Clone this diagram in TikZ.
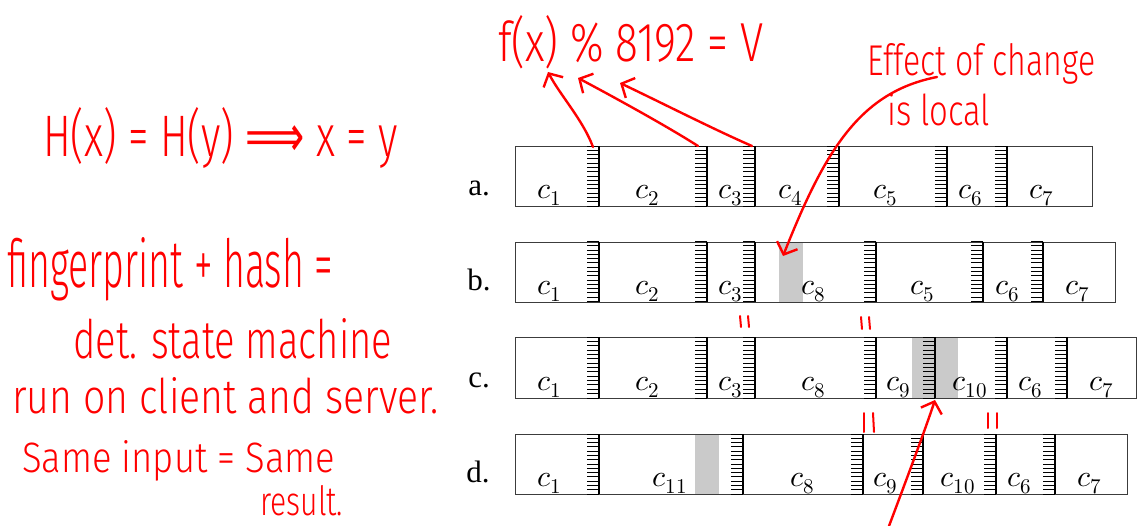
\documentclass[tikz,border=0pt]{standalone}
\usepackage{fontspec}
\usepackage{unicode-math}
\setmathfont{Latin Modern Math}
\usepackage{graphicx}
\usetikzlibrary{arrows.meta,calc}
\IfFontExistsTF{Fira Sans Light}
  {\newfontfamily\hwfont{Fira Sans Light}}
  {\newfontfamily\hwfont{DejaVu Sans}}
\newfontfamily\hwsym{DejaVu Sans}
\newfontfamily\lblfont{Liberation Serif}
\definecolor{ink}{RGB}{255,0,0}
\definecolor{boxgray}{RGB}{60,60,60}
\definecolor{shade}{RGB}{202,202,202}
\newcommand\hw[3]{\resizebox{#1pt}{#2pt}{\hwfont #3}}
\newcommand\divider[3]{%
  \foreach \k in {0,...,14}{\draw[hatchline] ({#1-12},{#2+\k*(#3-#2)/14}) -- ({#1},{#2+\k*(#3-#2)/14});}
  \draw[divline] (#1,#2) -- (#1,#3);
}
\tikzset{
  rowbox/.style={draw=boxgray, line width=1.2pt, inner sep=0pt, anchor=north west},
  hatchline/.style={draw=black, line width=0.9pt},
  divline/.style={draw=black, line width=1.6pt},
  shadebox/.style={fill=shade, draw=none},
  chunklabel/.style={anchor=base, inner sep=0pt, font=\fontsize{30}{34}\selectfont},
  rowlabel/.style={anchor=base, inner sep=0pt, font=\lblfont\fontsize{31}{36}\selectfont},
  hand/.style={anchor=base west, inner sep=0pt, text=ink},
  redarrow/.style={draw=ink, line width=2.4pt, line cap=round, -{Straight Barb[length=10pt,width=22pt]}},
  tick/.style={draw=ink, line width=2pt, line cap=round},
}
\begin{document}
\begin{tikzpicture}[x=1pt,y=-1pt]
\useasboundingbox (0,0) rectangle (1137,525);

% ---------- shaded (changed) regions ----------
\fill[shadebox] (779,241.5) rectangle (803,301.5);
\fill[shadebox] (912,337) rectangle (958,398);
\fill[shadebox] (695,434) rectangle (719,494);

% ---------- rows ----------
\node[rowbox, minimum width=577pt, minimum height=60pt] (rowa) at (515,146) {};
\node[rowbox, minimum width=600pt, minimum height=60pt] (rowb) at (515,241.5) {};
\node[rowbox, minimum width=621pt, minimum height=61pt] (rowc) at (515,337) {};
\node[rowbox, minimum width=612pt, minimum height=60pt] (rowd) at (515,434) {};

% ---------- chunk boundaries (hatched) ----------
\foreach \x in {599,707,755,839,947,1007} {\divider{\x}{146}{206}}
\foreach \x in {599,707,755,876,983,1043} {\divider{\x}{241.5}{301.5}}
\foreach \x in {599,707,755,876,935,1007,1067} {\divider{\x}{337}{398}}
\foreach \x in {599,743,863,923,996,1055} {\divider{\x}{434}{494}}

% ---------- chunk labels ----------
\foreach \x/\n [count=\i] in {549/1,647/2,730/3,790/4,885/5,970/6,1042/7}
  {\node[chunklabel] (la\i) at (\x,198) {$c_{\n}$};}
\foreach \x/\n [count=\i] in {549/1,647/2,730/3,813/8,922/5,1007/6,1078/7}
  {\node[chunklabel] (lb\i) at (\x,294) {$c_{\n}$};}
\foreach \x/\n [count=\i] in {549/1,647/2,730/3,813/8,898/9,970/10,1030/6,1102/7}
  {\node[chunklabel] (lc\i) at (\x,390) {$c_{\n}$};}
\foreach \x/\n [count=\i] in {549/1,670/11,802/8,885/9,958/10,1019/6,1090/7}
  {\node[chunklabel] (ld\i) at (\x,486) {$c_{\n}$};}

% ---------- row labels ----------
\node[rowlabel] (ra) at (479,195) {a.};
\node[rowlabel] (rb) at (479,290) {b.};
\node[rowlabel] (rc) at (479,387) {c.};
\node[rowlabel] (rd) at (478,482) {d.};

% ---------- handwritten notes ----------
\node[hand] (hxy)  at (43,156)  {\hw{355}{49}{H(x) = H(y) {\hwsym ⟹} x = y}};
\node[hand] (fp)   at (7,287)   {\hw{326}{50}{fingerprint + hash =}};
\node[hand] (det)  at (73,358)  {\hw{319}{40}{det. state machine}};
\node[hand] (run)  at (12,413)  {\hw{426}{36}{run on client and server.}};
\node[hand] (same) at (22,472)  {\hw{313}{32}{Same input = Same}};
\node[hand] (res)  at (260,515) {\hw{83}{30}{result.}};
\node[hand] (fx)   at (498,61)  {\hw{265}{46}{f(x) \% 8192 = V}};
\node[hand] (eff)  at (867,75)  {\hw{228}{32}{Effect of change}};
\node[hand] (loc)  at (887,125) {\hw{103}{32}{is local}};

% ---------- connector end points ----------
\coordinate (a1) at (593,147);
\coordinate (a2) at (698,146);
\coordinate (a3) at (752,146);
\coordinate (fx1) at (548,72);
\coordinate (fx2) at (578,78);
\coordinate (fx3) at (620,83);
\coordinate (effstart) at (937,77);
\coordinate (bchg) at (783,256);
\coordinate (cchg) at (935,400);
\coordinate (bot) at (889,526);

% ---------- red arrows ----------
\draw[redarrow] (a1) .. controls (583,120) and (560,95) .. (fx1);
\draw[redarrow] (a2) .. controls (665,125) and (610,95) .. (fx2);
\draw[redarrow] (a3) .. controls (715,130) and (660,102) .. (fx3);
\draw[redarrow] (effstart) .. controls (860,92) and (825,150) .. (bchg);
\draw[redarrow] (bot) .. controls (910,470) and (925,430) .. (cchg);

% ---------- equality ticks ----------
\draw[tick] (740,316) -- (741,327);
\draw[tick] (748,316) -- (749,327);
\draw[tick] (861,317) -- (862,329);
\draw[tick] (869,317) -- (870,329);
\draw[tick] (864,413) -- (864,432);
\draw[tick] (873,413) -- (874,432);
\draw[tick] (988,413) -- (988,428);
\draw[tick] (997,413) -- (997,428);
\end{tikzpicture}
\end{document}
